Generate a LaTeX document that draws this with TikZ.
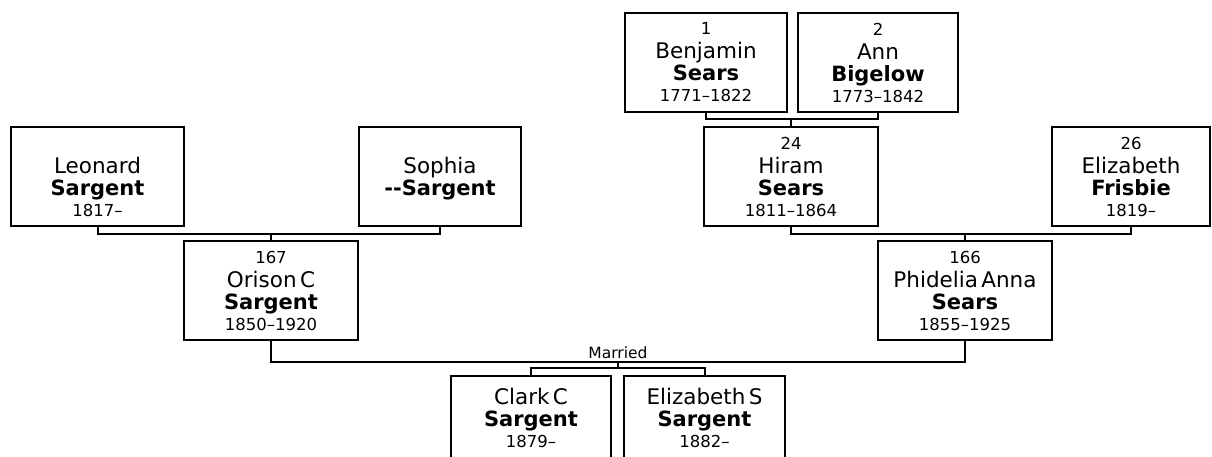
\documentclass[tikz,border=0pt]{standalone}
\usepackage{fontspec}
\setmainfont[WordSpace=1.45]{DejaVu Sans}
\usetikzlibrary{calc}
\setlength{\parindent}{0pt}
\newcommand\famnum[1]{{\fontsize{16.5}{16.5}\selectfont #1\par}}
\newcommand\famgiven[1]{{\fontsize{21.5}{24}\selectfont #1\par}}
\newcommand\famsur[1]{{\fontsize{21}{22}\selectfont\bfseries #1\par}}
\newcommand\famyears[1]{{\fontsize{16.5}{21}\selectfont #1\par}}
\newcommand\famnone{\phantom{0}}
\tikzset{
PersonBox/.style ={draw, rectangle, line width=2pt,
                   inner sep=0pt, text width=#1, align=center,
                   minimum width=#1, minimum height=99pt},
LowBox/.style    ={PersonBox=#1, minimum height=84pt},
LinkLine/.style  ={line width=2pt},
MarriedLabel/.style={font=\fontsize{15.5}{17}\selectfont, inner sep=0pt},
}

\begin{document}
\begin{tikzpicture}[x=1pt, y=-1pt]
\clip (0,0) rectangle (1212,456);
\begin{scope}  % people
\node[PersonBox=162pt] (ben) at (706,62.5)  {\famnum{1}\famgiven{Benjamin}\famsur{Sears}\famyears{1771–1822}};
\node[PersonBox=160pt] (ann) at (878,62.5)  {\famnum{2}\famgiven{Ann}\famsur{Bigelow}\famyears{1773–1842}};
\node[PersonBox=173pt] (leo) at (97.5,176.5) {\famnum{\famnone}\famgiven{Leonard}\famsur{Sargent}\famyears{1817–}};
\node[PersonBox=162pt] (sop) at (440,176.5) {\famnum{\famnone}\famgiven{Sophia}\famsur{-{}-Sargent}\famyears{\famnone}};
\node[PersonBox=174pt] (hir) at (791,176.5) {\famnum{24}\famgiven{Hiram}\famsur{Sears}\famyears{1811–1864}};
\node[PersonBox=158pt] (fri) at (1131,176.5) {\famnum{26}\famgiven{Elizabeth}\famsur{Frisbie}\famyears{1819–}};
\node[PersonBox=174pt] (ori) at (271,290.5) {\famnum{167}\famgiven{Orison C}\famsur{Sargent}\famyears{1850–1920}};
\node[PersonBox=174pt] (phi) at (965,290.5) {\famnum{166}\famgiven{Phidelia Anna}\famsur{Sears}\famyears{1855–1925}};
\node[LowBox=160pt] (cla) at (531,418) {\famgiven{Clark C}\famsur{Sargent}\famyears{1879–}};
\node[LowBox=161pt] (eli) at (704.5,418) {\famgiven{Elizabeth S}\famsur{Sargent}\famyears{1882–}};
\end{scope}

\begin{scope}[LinkLine]  % family lines
\draw (ben.south) -- ++(0,6) coordinate (benann) -| (ann.south);
\draw (hir.north) -- (hir.north |- benann);
\draw (leo.south) -- ++(0,7) coordinate (leosop) -| (sop.south);
\draw (ori.north) -- (ori.north |- leosop);
\draw (hir.south) -- ++(0,7) coordinate (hirfri) -| (fri.south);
\draw (phi.north) -- (phi.north |- hirfri);
\draw (ori.south) -- ++(0,21) coordinate (oriphi) -| (phi.south);
\coordinate (wed) at ($(oriphi)!0.5!(oriphi -| phi.south)$);
\node[MarriedLabel, above=2pt] (married) at (wed) {Married};
\draw (cla.north) -- ++(0,-7) coordinate (kids) -| (eli.north);
\draw (wed) -- (wed |- kids);
\end{scope}
\end{tikzpicture}
\end{document}
